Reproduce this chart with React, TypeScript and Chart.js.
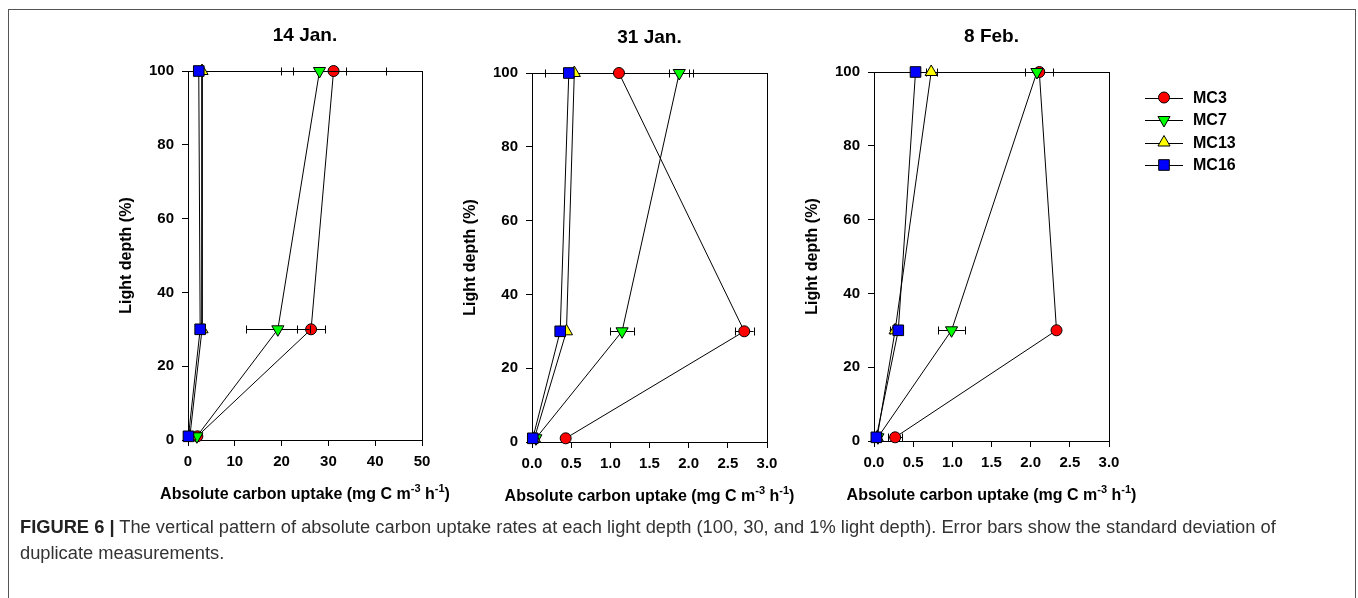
import React, { useEffect, useRef } from 'react';
import { Chart, registerables } from 'chart.js';
import { drawPoint } from 'chart.js/helpers';

Chart.register(...registerables);

// ---------- data ----------
const depths = [100, 30, 1];
const seriesNames = ['MC3', 'MC7', 'MC13', 'MC16'];
const panelTitles = ['14 Jan.', '31 Jan.', '8 Feb.'];
const xMaxes = [50, 3, 3];
const xSteps = [10, 0.5, 0.5];
const yMax = 100;
const yStep = 20;

// 14 Jan.
const jan14MC3 = [31.1, 26.3, 2.0];
const jan14MC3Sd = [11.3, 3.0, 0];
const jan14MC7 = [28.1, 19.2, 1.9];
const jan14MC7Sd = [5.65, 6.8, 0];
const jan14MC13 = [3.0, 3.0, 0.4];
const jan14MC13Sd = [0, 0, 0];
const jan14MC16 = [2.3, 2.6, 0.1];
const jan14MC16Sd = [0, 0, 0];

// 31 Jan.
const jan31MC3 = [1.11, 2.71, 0.43];
const jan31MC3Sd = [0.95, 0.12, 0];
const jan31MC7 = [1.88, 1.15, 0.05];
const jan31MC7Sd = [0.13, 0.15, 0];
const jan31MC13 = [0.54, 0.44, 0.03];
const jan31MC13Sd = [0, 0, 0];
const jan31MC16 = [0.47, 0.36, 0.01];
const jan31MC16Sd = [0, 0, 0];

// 8 Feb.
const feb8MC3 = [2.11, 2.33, 0.27];
const feb8MC3Sd = [0.18, 0.03, 0.09];
const feb8MC7 = [2.08, 0.99, 0.05];
const feb8MC7Sd = [0, 0.17, 0];
const feb8MC13 = [0.73, 0.27, 0.04];
const feb8MC13Sd = [0.07, 0.07, 0];
const feb8MC16 = [0.53, 0.31, 0.03];
const feb8MC16Sd = [0, 0, 0];

const panelValues = [
  [jan14MC3, jan14MC7, jan14MC13, jan14MC16],
  [jan31MC3, jan31MC7, jan31MC13, jan31MC16],
  [feb8MC3, feb8MC7, feb8MC13, feb8MC16],
];
const panelSds = [
  [jan14MC3Sd, jan14MC7Sd, jan14MC13Sd, jan14MC16Sd],
  [jan31MC3Sd, jan31MC7Sd, jan31MC13Sd, jan31MC16Sd],
  [feb8MC3Sd, feb8MC7Sd, feb8MC13Sd, feb8MC16Sd],
];

// ---------- styles ----------
const FONT = '"Liberation Sans", Arial, Helvetica, sans-serif';
const markerStyles = [
  { pointStyle: 'circle', fill: '#ff0000', radius: 5.5, rotation: 0 },
  { pointStyle: 'triangle', fill: '#00ff00', radius: 7, rotation: 180 },
  { pointStyle: 'triangle', fill: '#ffff00', radius: 7, rotation: 0 },
  { pointStyle: 'rect', fill: '#0000ff', radius: 7.5, rotation: 0 },
];

const panelBoxes = [
  { left: 188, top: 71, right: 422, bottom: 440 },
  { left: 532, top: 73, right: 767, bottom: 442 },
  { left: 874, top: 72, right: 1109, bottom: 441 },
];
const AXIS_W = 85;
const CANVAS_H = 520;

const decorPlugin = {
  id: 'decor',
  beforeDatasetsDraw(chart: any) {
    const { ctx, chartArea } = chart;
    ctx.save();
    ctx.strokeStyle = '#000';
    ctx.lineWidth = 1;
    const l = Math.round(chartArea.left) + 0.5;
    const t = Math.round(chartArea.top) + 0.5;
    const r = Math.round(chartArea.right) + 0.5;
    const b = Math.round(chartArea.bottom) + 0.5;
    ctx.strokeRect(l, t, r - l, b - t);
    ctx.restore();
  },
  beforeDatasetDraw(chart: any, args: any) {
    const ds = chart.data.datasets[args.index];
    const sd = ds.sd || [];
    const xs = chart.scales.x;
    const ys = chart.scales.y;
    const { ctx } = chart;
    ctx.save();
    ctx.strokeStyle = '#000';
    ctx.lineWidth = 1;
    ds.data.forEach((p: any, i: number) => {
      const s = sd[i];
      if (!s) return;
      const y = Math.round(ys.getPixelForValue(p.y)) + 0.5;
      const x1 = xs.getPixelForValue(p.x - s);
      const x2 = xs.getPixelForValue(p.x + s);
      ctx.beginPath();
      ctx.moveTo(x1, y);
      ctx.lineTo(x2, y);
      ctx.moveTo(Math.round(x1) + 0.5, y - 4);
      ctx.lineTo(Math.round(x1) + 0.5, y + 4);
      ctx.moveTo(Math.round(x2) + 0.5, y - 4);
      ctx.lineTo(Math.round(x2) + 0.5, y + 4);
      ctx.stroke();
    });
    ctx.restore();
  },
  afterDraw(chart: any, _args: any, opts: any) {
    const { ctx, chartArea } = chart;
    const cx = (chartArea.left + chartArea.right) / 2;
    const cy = (chartArea.top + chartArea.bottom) / 2;
    ctx.save();
    ctx.fillStyle = '#000';
    // panel title
    ctx.font = `bold 19px ${FONT}`;
    ctx.textAlign = 'center';
    ctx.textBaseline = 'middle';
    ctx.fillText(opts.title, cx, chartArea.top - 35);
    // y title
    ctx.save();
    ctx.translate(chartArea.left - 61, cy);
    ctx.rotate(-Math.PI / 2);
    ctx.font = `bold 16px ${FONT}`;
    ctx.fillText('Light depth (%)', 0, 0);
    ctx.restore();
    // x title with superscripts
    const segs = [
      { t: 'Absolute carbon uptake (mg C m', sup: false },
      { t: '-3', sup: true },
      { t: ' h', sup: false },
      { t: '-1', sup: true },
      { t: ')', sup: false },
    ];
    const mainFont = `bold 16px ${FONT}`;
    const supFont = `bold 11px ${FONT}`;
    let total = 0;
    const widths = segs.map((s) => {
      ctx.font = s.sup ? supFont : mainFont;
      const w = ctx.measureText(s.t).width;
      total += w;
      return w;
    });
    let x = cx - total / 2;
    const ty = chartArea.bottom + 55;
    ctx.textAlign = 'left';
    segs.forEach((s, i) => {
      ctx.font = s.sup ? supFont : mainFont;
      ctx.fillText(s.t, x, s.sup ? ty - 6 : ty);
      x += widths[i];
    });
    // legend
    if (opts.legend) {
      const lx = chartArea.right + 36;
      chart.data.datasets.forEach((ds: any, i: number) => {
        const yy = chartArea.top + 25.5 + 22.5 * i;
        ctx.strokeStyle = '#000';
        ctx.lineWidth = 1;
        ctx.beginPath();
        ctx.moveTo(lx, Math.round(yy) + 0.5);
        ctx.lineTo(lx + 38, Math.round(yy) + 0.5);
        ctx.stroke();
        ctx.fillStyle = ds.pointBackgroundColor;
        ctx.strokeStyle = '#000';
        drawPoint(ctx, {
          pointStyle: ds.pointStyle,
          rotation: ds.pointRotation,
          radius: ds.pointRadius,
          borderWidth: 1,
        } as any, lx + 19, yy);
        ctx.fillStyle = '#000';
        ctx.font = `bold 16px ${FONT}`;
        ctx.textAlign = 'left';
        ctx.textBaseline = 'middle';
        ctx.fillText(ds.label, lx + 48, yy + 1);
      });
    }
    ctx.restore();
  },
};

function Panel({ index }: { index: number }) {
  const ref = useRef<HTMLCanvasElement>(null);
  const box = panelBoxes[index];
  const canvasLeft = box.left - AXIS_W;
  const canvasW = index === 2 ? 1270 - canvasLeft : box.right - canvasLeft + 30;
  const plotW = box.right - box.left;

  useEffect(() => {
    const datasets = seriesNames.map((name, si) => {
      const m = markerStyles[si];
      return {
        label: name,
        data: panelValues[index][si].map((v, i) => ({ x: v, y: depths[i] })),
        sd: panelSds[index][si],
        showLine: true,
        borderColor: '#000',
        borderWidth: 1,
        backgroundColor: m.fill,
        pointBackgroundColor: m.fill,
        pointBorderColor: '#000',
        pointBorderWidth: 1,
        pointStyle: m.pointStyle,
        pointRadius: m.radius,
        pointRotation: m.rotation,
        pointHoverRadius: m.radius,
        tension: 0,
        clip: false,
        order: 3 - si,
      };
    });
    const decimals = index === 0 ? 0 : 1;
    const chart = new Chart(ref.current as HTMLCanvasElement, {
      type: 'scatter',
      data: { datasets } as any,
      options: {
        animation: false,
        responsive: false,
        events: [],
        layout: {
          padding: { left: 0, top: box.top, right: canvasW - AXIS_W - plotW, bottom: 0 },
        },
        plugins: {
          legend: { display: false },
          tooltip: { enabled: false },
          decor: { title: panelTitles[index], legend: index === 2 },
        } as any,
        scales: {
          x: {
            type: 'linear',
            min: 0,
            max: xMaxes[index],
            afterFit: (s: any) => {
              s.height = CANVAS_H - box.bottom;
            },
            ticks: {
              stepSize: xSteps[index],
              color: '#000',
              padding: 7,
              maxRotation: 0,
              font: { family: FONT, size: 15, weight: 'bold' },
              callback: (v: any) => Number(v).toFixed(decimals),
            },
            grid: { drawOnChartArea: false, drawTicks: true, tickLength: 6, color: '#000', lineWidth: 1 },
            border: { display: false },
          },
          y: {
            type: 'linear',
            min: 0,
            max: yMax,
            afterFit: (s: any) => {
              s.width = AXIS_W;
            },
            ticks: {
              stepSize: yStep,
              color: '#000',
              padding: 8,
              font: { family: FONT, size: 15, weight: 'bold' },
            },
            grid: { drawOnChartArea: false, drawTicks: true, tickLength: 6, color: '#000', lineWidth: 1 },
            border: { display: false },
          },
        },
      } as any,
      plugins: [decorPlugin as any],
    });
    return () => chart.destroy();
  }, []);

  return (
    <canvas
      ref={ref}
      width={canvasW}
      height={CANVAS_H}
      style={{ position: 'absolute', left: canvasLeft, top: 0, width: canvasW, height: CANVAS_H }}
    />
  );
}

export default function App() {
  return (
    <div
      style={{
        position: 'absolute',
        left: 0,
        top: 0,
        width: 1358,
        height: 598,
        overflow: 'hidden',
        background: '#fff',
      }}
    >
      <div
        style={{
          position: 'absolute',
          left: 8,
          top: 9,
          width: 1346,
          height: 620,
          borderLeft: '1px solid #555',
          borderTop: '1px solid #555',
          borderRight: '1px solid #555',
        }}
      />
      <Panel index={0} />
      <Panel index={1} />
      <Panel index={2} />
      <div
        style={{
          position: 'absolute',
          left: 20,
          top: 514,
          width: 1320,
          fontFamily: FONT,
          fontSize: 18.3,
          lineHeight: '26px',
          color: '#333',
          whiteSpace: 'nowrap',
        }}
      >
        <b style={{ color: '#222' }}>FIGURE 6 |</b> The vertical pattern of absolute carbon uptake rates at each light
        depth (100, 30, and 1% light depth). Error bars show the standard deviation of
        <br />
        duplicate measurements.
      </div>
    </div>
  );
}
